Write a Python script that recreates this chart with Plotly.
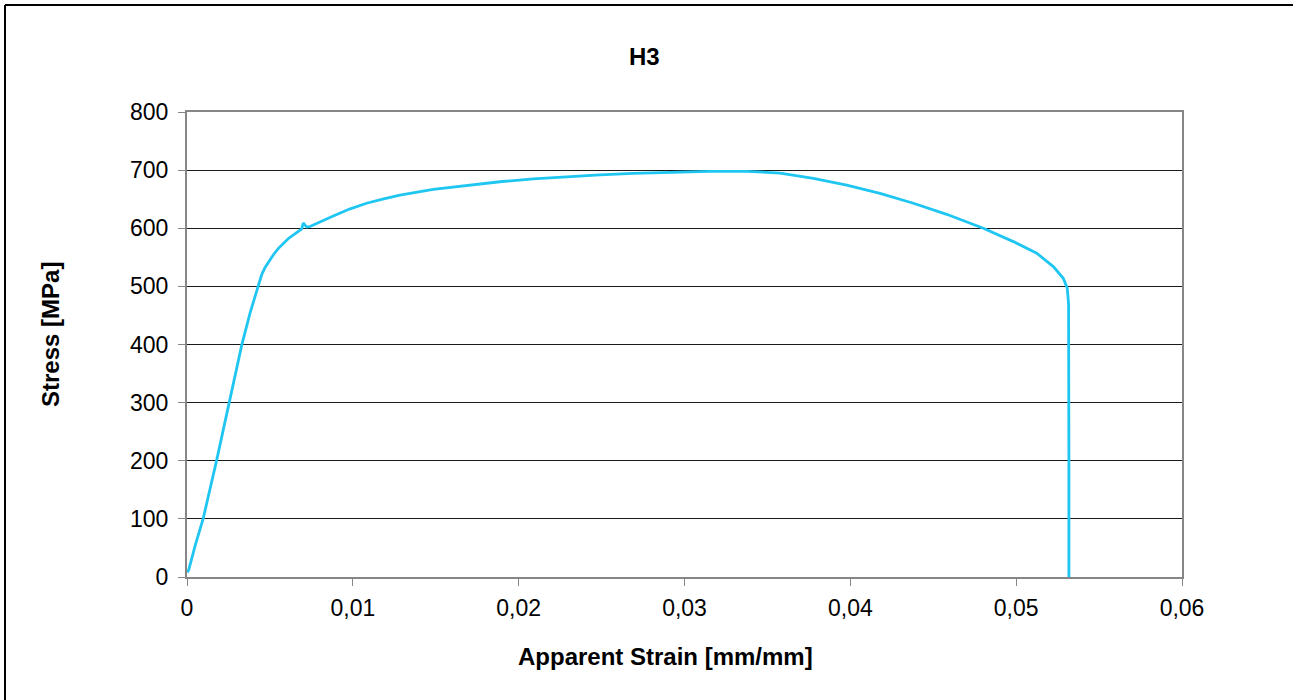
import plotly.graph_objects as go

# Data (strain mm/mm, stress MPa)
strain = [0.0, 0.0001, 0.0005, 0.00098, 0.00179, 0.00255, 0.0033, 0.0038, 0.0041,
          0.0043, 0.0045, 0.0047, 0.0049, 0.0052, 0.0055, 0.0058, 0.0061, 0.0064,
          0.0067, 0.00692, 0.00701, 0.00722, 0.00742, 0.0081,
          0.00882, 0.0098, 0.01083, 0.0118, 0.01284, 0.01485, 0.01687, 0.01887,
          0.02088, 0.0229, 0.0249, 0.0269, 0.02953, 0.0315, 0.03375, 0.03576,
          0.03777, 0.03978, 0.04179, 0.0438, 0.04581, 0.04802, 0.04983, 0.05124,
          0.05224, 0.05284, 0.05308, 0.05316, 0.05318, 0.05318]
stress = [8, 12, 55, 101, 201, 300, 399, 454, 484,
          503, 520, 532, 541, 554, 565, 574, 582, 588,
          594, 599, 609, 602, 603, 612,
          621, 633, 643, 650, 657, 667, 674, 680,
          685, 689, 692, 694.5, 697, 698, 698, 695,
          686, 674, 660, 643, 624, 600, 577, 557,
          534, 514, 497, 470, 200, 0]

x_tickvals = [0, 0.01, 0.02, 0.03, 0.04, 0.05, 0.06]
x_ticktext = ["0", "0,01", "0,02", "0,03", "0,04", "0,05", "0,06"]
y_tickvals = [0, 100, 200, 300, 400, 500, 600, 700, 800]

FONT = "Arial, 'Liberation Sans', sans-serif"
L, R, T, B = 187, 111, 112, 123
W, H = 1293, 700
pw, ph = W - L - R, H - T - B

def px(xp):
    return (xp - L) / pw

def py(yp):
    return (H - B - yp) / ph

fig = go.Figure()
fig.add_trace(go.Scatter(x=strain, y=stress, mode="lines",
                         line=dict(color="#1FC6F2", width=2.8),
                         showlegend=False, hoverinfo="skip"))

axis_common = dict(showline=True, linecolor="#868686", linewidth=2, mirror=True,
                   ticks="outside", ticklen=7, tickcolor="#868686", tickwidth=1,
                   tickfont=dict(family=FONT, size=23, color="#000000"),
                   zeroline=False)

fig.update_xaxes(range=[0, 0.06], tickvals=x_tickvals, ticktext=x_ticktext,
                 showgrid=False, ticklabelstandoff=2, **axis_common)
fig.update_yaxes(range=[0, 800], tickvals=y_tickvals,
                 showgrid=True, gridcolor="#1a1a1a", gridwidth=1,
                 ticklabelstandoff=5, **axis_common)

fig.update_layout(
    width=W, height=H,
    margin=dict(l=L, r=R, t=T, b=B),
    paper_bgcolor="white", plot_bgcolor="white",
    annotations=[
        dict(text="<b>H3</b>", x=px(644), y=py(56), xref="paper", yref="paper",
             showarrow=False, xanchor="center", yanchor="middle",
             font=dict(family=FONT, size=24, color="#000000")),
        dict(text="<b>Apparent Strain [mm/mm]</b>", x=px(665), y=py(656),
             xref="paper", yref="paper", showarrow=False,
             xanchor="center", yanchor="middle",
             font=dict(family=FONT, size=24, color="#000000")),
        dict(text="<b>Stress [MPa]</b>", x=px(50), y=py(335),
             xref="paper", yref="paper", showarrow=False, textangle=-90,
             xanchor="center", yanchor="middle",
             font=dict(family=FONT, size=24, color="#000000")),
    ],
    shapes=[
        dict(type="line", xref="paper", yref="paper",
             x0=px(5), y0=py(5), x1=px(1300), y1=py(5),
             line=dict(color="#000000", width=2)),
        dict(type="line", xref="paper", yref="paper",
             x0=px(5), y0=py(5), x1=px(5), y1=py(710),
             line=dict(color="#000000", width=2)),
    ],
)

fig.write_html("out.html")
